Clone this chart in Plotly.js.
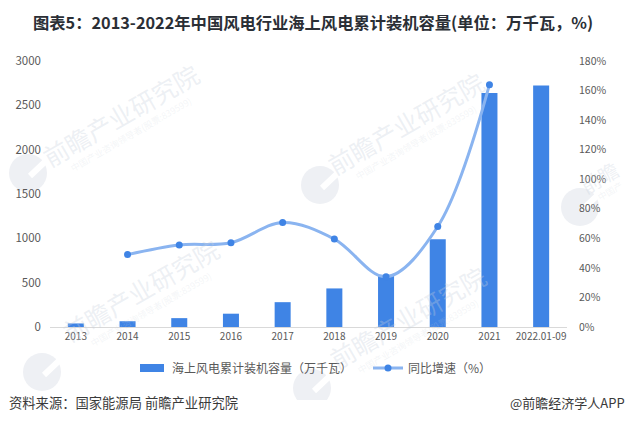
<!DOCTYPE html>
<html><head><meta charset="utf-8">
<script src="https://cdn.plot.ly/plotly-3.0.1.min.js"></script>
<style>html,body{margin:0;padding:0;background:#fff}#c{width:627px;height:423px}</style></head>
<body><div id="c"></div>
<script>
const categories=['2013','2014','2015','2016','2017','2018','2019','2020','2021','2022.01-09'];
const capacity=[40,65,100,150,280,435,590,990,2640,2725];
const growth=[null,49,55.5,57,70.7,59.5,34,68,164,null];
const leftTicks=[0,500,1000,1500,2000,2500,3000];
const rightTicks=[0,20,40,60,80,100,120,140,160,180];
const CJK='"Noto Sans CJK SC","Noto Sans",sans-serif';
const L=50,R=567,T=61,B=327;
const px=x=>(x-L)/(R-L), py=y=>(B-y)/(B-T);
const wmMain=[[120,115],[405,123],[140,290],[407,317]];
const wmLogo=[[28,173],[320,185],[580,207],[42,372],[312,388]];
const wmColor='rgba(200,208,220,0.32)';
const annotations=[];
const center={xref:'paper',yref:'paper',xanchor:'center',yanchor:'middle',showarrow:false};
wmMain.forEach(p=>{
 annotations.push({...center,x:px(p[0]),y:py(p[1]),text:'前瞻产业研究院',textangle:-30,font:{family:CJK,size:25,color:wmColor}});
 annotations.push({...center,x:px(p[0]+11),y:py(p[1]+19),text:'中国产业咨询领导者(股票:839599)',textangle:-30,font:{family:CJK,size:9,color:'rgba(200,208,220,0.22)'}});
});
annotations.push({...center,x:px(599),y:py(177),text:'前瞻',textangle:-30,font:{family:CJK,size:20,color:wmColor}});
annotations.push({...center,x:px(610),y:py(192),text:'中国产',textangle:-30,font:{family:CJK,size:9,color:'rgba(200,208,220,0.22)'}});
annotations.push({...center,x:px(313),y:py(22),text:'<b>图表5：2013-2022年中国风电行业海上风电累计装机容量(单位：万千瓦，%)</b>',font:{family:CJK,size:16.3,color:'#2b2f36'}});
annotations.push({xref:'paper',yref:'paper',showarrow:false,x:px(7),y:py(403),xanchor:'left',yanchor:'middle',text:'资料来源：国家能源局 前瞻产业研究院',font:{family:CJK,size:13.3,color:'#3a3a3a'}});
annotations.push({xref:'paper',yref:'paper',showarrow:false,x:px(627),y:py(403),xanchor:'right',yanchor:'middle',text:'@前瞻经济学人APP',font:{family:CJK,size:13,color:'#3a3a3a'}});
const shapes=[];
wmLogo.forEach(p=>{
 shapes.push({type:'circle',xref:'paper',yref:'paper',layer:'below',x0:px(p[0]-19),x1:px(p[0]+19),y0:py(p[1]+19),y1:py(p[1]-19),fillcolor:'#eef0f4',line:{width:0}});
 shapes.push({type:'line',xref:'paper',yref:'paper',layer:'below',x0:px(p[0]+2),x1:px(p[0]+21),y0:py(p[1]+3),y1:py(p[1]-15),line:{color:'#fff',width:6}});
});
shapes.push({type:'rect',xref:'paper',yref:'paper',layer:'below',x0:px(0),x1:px(627),y0:py(423),y1:py(400),fillcolor:'#fff',line:{width:0}});
const widen=()=>document.querySelectorAll('.legend .traces path').forEach(p=>{
 const d=p.getAttribute('d')||'';
 if(/H-6V-6/.test(d)||/^M6,6/.test(d)) p.setAttribute('d','M12,4H-12V-4H12Z');
});
Plotly.newPlot('c',[
 {type:'bar',name:'海上风电累计装机容量（万千瓦）',x:categories,y:capacity,marker:{color:'#3f84e5'},width:0.31},
 {type:'scatter',mode:'lines+markers',name:'同比增速（%）',x:categories,y:growth,yaxis:'y2',
  line:{color:'#8ab4f0',width:3,shape:'spline',smoothing:1.0},marker:{color:'#3f84e5',size:7},connectgaps:false}
],{
 width:627,height:423,margin:{l:L,r:627-R,t:T,b:423-B,autoexpand:false},paper_bgcolor:'#fff',plot_bgcolor:'rgba(0,0,0,0)',
 showlegend:true,
 legend:{orientation:'h',x:px(132),xanchor:'left',y:-0.1,yanchor:'top',bgcolor:'rgba(0,0,0,0)',font:{family:CJK,size:12,color:'#595959'},itemwidth:26,entrywidth:191,entrywidthmode:'pixels',traceorder:'normal'},
 xaxis:{type:'category',range:[-0.5,9.5],tickvals:categories,ticktext:categories,tickangle:0,showgrid:false,showline:true,linecolor:'#d9d9d9',linewidth:1,ticks:'',
  tickfont:{family:CJK,size:10,color:'#595959'}},
 yaxis:{range:[0,3000],tickvals:leftTicks,showgrid:false,zeroline:false,showline:false,ticks:'',tickfont:{family:CJK,size:11.5,color:'#595959'},ticklabelstandoff:8},
 yaxis2:{overlaying:'y',side:'right',range:[0,180],tickvals:rightTicks,ticktext:rightTicks.map(v=>v+'%'),showgrid:false,zeroline:false,showline:false,ticks:'',
  tickfont:{family:CJK,size:10.5,color:'#595959'},ticklabelstandoff:11},
 annotations,shapes
},{displayModeBar:false,responsive:false}).then(()=>{
 widen();
 document.getElementById('c').on('plotly_afterplot',widen);
 setTimeout(widen,50);
});
</script></body></html>
